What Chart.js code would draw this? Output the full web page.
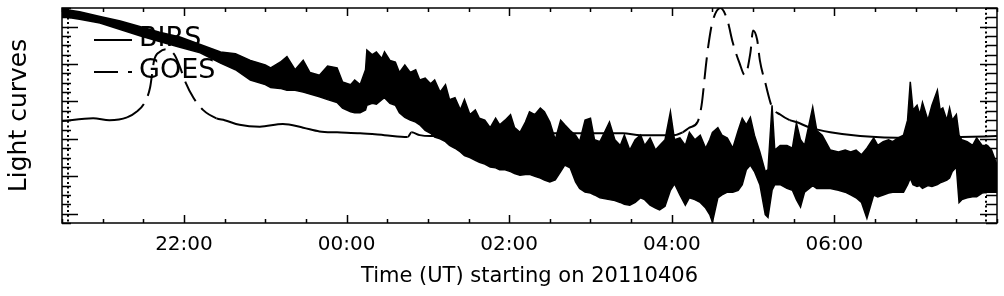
<!DOCTYPE html>
<html lang="en">
<head>
<meta charset="UTF-8">
<title>Light curves</title>
<script src="https://cdn.jsdelivr.net/npm/chart.js"></script>
<style>
  html, body { margin: 0; padding: 0; background: #fff; }
</style>
</head>
<body>
<canvas id="lc" width="1004" height="296"></canvas>
<script>
// time = minutes after 2011-04-06 20:00 UT, flux in arbitrary units
const birsTime = [30, 43, 58, 73, 88, 102, 117, 132, 147, 158, 169, 180,
  184, 191, 196, 202, 208, 213, 220, 226, 233, 237, 243, 246, 250, 254, 255, 259, 262, 266, 268, 272,
  276, 279, 283, 287, 291, 294, 298, 302, 305, 309, 313, 316, 320, 324, 327, 331, 335, 338, 342, 346,
  350, 353, 357, 361, 364, 368, 372, 375, 379, 383, 386,
  390, 394, 398, 401, 405, 409, 412, 416, 420, 423, 427, 431, 434, 438, 442, 445, 449, 453, 457, 460,
  464, 468, 471, 475, 479, 482, 486, 490, 493, 497, 501,
  505, 508, 510, 514, 517, 521, 525, 529, 532, 535, 538, 541, 545, 549, 551, 554, 556, 560, 565, 569,
  572, 575, 578, 584, 587, 591, 597, 603, 608, 612, 616, 620,
  624, 629, 632, 636, 640, 643, 647, 651, 654, 656, 658, 661, 663, 665, 669, 672, 676, 678, 680, 683,
  685, 687, 690, 692, 694, 698, 702, 705, 709, 713, 716, 720];
const birsHigh = [22.9, 22.6, 22.1, 21.6, 21.0, 20.4, 19.9, 19.1, 18.3, 18.1, 17.4, 16.9,
  16.6, 17.2, 17.8, 16.4, 17.4, 16.1, 15.8, 16.8, 16.6, 15.1, 14.8, 15.3, 14.8, 16.4, 18.5, 18.0, 18.3, 17.6, 18.3, 17.4,
  17.2, 16.1, 16.9, 16.1, 16.4, 15.3, 15.5, 14.9, 15.3, 14.0, 14.8, 13.2, 13.4, 12.1, 13.2, 11.6, 12.1, 11.2, 11.0, 10.2,
  11.2, 10.5, 11.0, 11.6, 10.2, 9.7, 10.8, 11.9, 11.6, 12.3, 11.9,
  10.8, 8.9, 11.0, 10.5, 9.9, 9.4, 8.7, 11.0, 11.2, 8.9, 8.7, 9.9, 10.8, 8.9, 8.3, 9.4, 7.8, 8.9, 9.4, 8.3,
  9.1, 7.8, 8.3, 8.9, 11.9, 8.9, 9.1, 8.3, 9.7, 8.9, 9.4,
  8.0, 8.9, 9.7, 10.2, 9.4, 9.1, 8.0, 9.9, 11.2, 10.5, 11.3, 9.4, 7.6, 5.5, 5.7, 12.6, 7.8, 8.3, 8.3, 8.0,
  10.7, 8.9, 8.3, 12.4, 9.9, 9.4, 7.8, 7.6, 7.8, 7.6, 7.8, 7.3,
  8.0, 9.1, 8.3, 8.7, 8.9, 8.7, 9.1, 9.4, 11.0, 15.1, 12.1, 12.6, 11.6, 12.9, 11.0, 12.6, 14.2, 12.1, 12.3, 11.0,
  12.3, 11.0, 11.6, 9.4, 8.9, 8.7, 8.3, 9.1, 8.3, 8.3, 7.8, 6.2];
const birsLow = [22.1, 21.8, 21.4, 20.7, 20.0, 19.4, 18.8, 18.2, 17.1, 16.4, 15.3, 14.8,
  14.5, 14.4, 14.2, 14.2, 14.0, 13.8, 13.5, 13.2, 12.9, 12.3, 11.9, 11.8, 11.8, 12.1, 12.6, 12.8, 12.7, 13.2, 13.4, 12.8,
  12.6, 11.8, 11.3, 11.0, 10.8, 10.5, 9.9, 9.6, 9.2, 9.0, 8.7, 8.3, 8.0, 7.6, 7.2, 7.0, 6.7, 6.5, 6.3, 6.0,
  5.9, 5.7, 5.7, 5.5, 5.3, 5.1, 5.2, 5.2, 5.0, 4.8, 4.6,
  4.4, 4.6, 5.5, 6.2, 5.9, 4.4, 3.7, 3.3, 3.2, 3.0, 2.7, 2.6, 2.5, 2.4, 2.2, 2.0, 1.9, 2.2, 2.7, 2.5,
  1.9, 1.6, 1.4, 1.8, 3.5, 4.2, 3.0, 1.9, 2.7, 2.5, 2.2,
  1.6, 0.9, 0.1, 2.7, 3.0, 3.3, 3.3, 3.5, 4.1, 5.7, 6.2, 5.5, 4.1, 0.9, 0.6, 3.5, 4.1, 4.1, 3.7, 3.5,
  2.5, 1.7, 3.3, 4.0, 3.7, 3.7, 3.7, 3.5, 3.3, 3.0, 2.7, 2.2,
  0.5, 3.0, 2.8, 3.0, 3.2, 3.3, 3.3, 3.3, 4.1, 4.8, 4.1, 3.9, 4.0, 3.7, 4.0, 3.9, 4.1, 4.3, 4.4, 4.6,
  4.8, 5.5, 6.0, 2.2, 2.5, 2.7, 2.8, 2.8, 3.2, 3.3, 3.3, 3.3];

const goesTime = [30, 53, 65, 78, 85, 91, 95, 98, 102, 107, 113, 117, 121, 127, 134, 144, 150, 161, 176, 193,
  208, 220, 233, 250, 268, 285, 288, 294, 302, 338, 383, 427, 444, 457, 481, 488, 493, 499, 502, 505,
  507, 510, 516, 521, 525, 530, 534, 538, 540, 543, 545, 549, 554, 560, 567, 572, 582, 597, 619, 656, 693, 720];
const goesFlux = [10.9, 11.2, 11.0, 11.3, 11.9, 12.9, 14.5, 17.4, 18.3, 18.6, 18.0, 16.7, 15.1, 13.4, 12.1, 11.2, 11.0, 10.5, 10.3, 10.6,
  10.2, 9.8, 9.7, 9.6, 9.4, 9.2, 9.7, 9.4, 9.3, 9.5, 9.6, 9.6, 9.6, 9.4, 9.4, 9.7, 10.2, 10.8, 12.6, 16.6,
  19.0, 21.5, 23.0, 21.7, 19.3, 17.1, 15.8, 18.2, 20.6, 19.6, 17.4, 15.0, 12.4, 11.6, 11.0, 10.8, 10.2, 9.7, 9.3, 9.1, 9.2, 9.3];

const tickMinutes = [120, 240, 360, 480, 600];
const tickLabels = ['22:00', '00:00', '02:00', '04:00', '06:00'];

const pts = (xs, ys) => xs.map((t, i) => ({ x: t, y: ys[i] }));

// inward ticks on all four sides, plus the frame
const frameTicks = {
  id: 'frameTicks',
  afterDatasetsDraw(chart) {
    const { ctx, chartArea: a, scales: { x, y } } = chart;
    ctx.save();
    ctx.strokeStyle = '#000';
    ctx.lineWidth = 1.5;
    ctx.strokeRect(a.left, a.top, a.right - a.left, a.bottom - a.top);
    ctx.beginPath();
    x.ticks.forEach(t => {
      const px = Math.round(x.getPixelForValue(t.value)) + 0.5;
      const len = tickMinutes.includes(t.value) ? 8 : 4;
      ctx.moveTo(px, a.bottom); ctx.lineTo(px, a.bottom - len);
      ctx.moveTo(px, a.top); ctx.lineTo(px, a.top + len);
    });
    y.ticks.forEach(t => {
      const py = Math.round(y.getPixelForValue(t.value)) + 0.5;
      const major = t.value % 4 === 1;
      ctx.moveTo(a.left, py); ctx.lineTo(a.left + (major ? 16 : 9), py);
      ctx.moveTo(a.right, py); ctx.lineTo(a.right - (major ? 17 : 11), py);
    });
    ctx.stroke();
    // fine dotted minor marks just inside the y axes
    ctx.setLineDash([2, 2.7]);
    ctx.lineWidth = 2;
    ctx.beginPath();
    ctx.moveTo(a.left + 6, a.top); ctx.lineTo(a.left + 6, a.bottom);
    ctx.moveTo(a.right - 11, a.top); ctx.lineTo(a.right - 11, a.bottom);
    ctx.stroke();
    ctx.restore();
  }
};

// legend sits inside the plot, top left
const innerLegend = {
  id: 'innerLegend',
  afterDatasetsDraw(chart) {
    const { ctx, chartArea: a } = chart;
    const items = chart.data.datasets.filter(d => d.label);
    ctx.save();
    ctx.font = '27px "DejaVu Sans"';
    ctx.fillStyle = '#000';
    ctx.textBaseline = 'middle';
    items.forEach((d, i) => {
      const yy = a.top + 31 + i * 32;
      ctx.strokeStyle = '#000';
      ctx.lineWidth = 2;
      ctx.setLineDash(d.legendDash || []);
      ctx.beginPath();
      ctx.moveTo(a.left + 32, yy + 1);
      ctx.lineTo(a.left + 70, yy + 1);
      ctx.stroke();
      ctx.fillText(d.label, a.left + 77, yy);
    });
    ctx.restore();
  }
};

new Chart(document.getElementById('lc'), {
  type: 'line',
  data: {
    datasets: [
      {
        label: 'BIRS',
        data: pts(birsTime, birsHigh),
        borderColor: '#000',
        borderWidth: 1.5,
        pointRadius: 0,
        fill: false
      },
      {
        data: pts(birsTime, birsLow),
        borderColor: '#000',
        backgroundColor: '#000',
        borderWidth: 1.5,
        pointRadius: 0,
        fill: '-1'
      },
      {
        label: 'GOES',
        data: pts(goesTime, goesFlux),
        borderColor: '#000',
        borderWidth: 2,
        pointRadius: 0,
        fill: false,
        cubicInterpolationMode: 'monotone',
        legendDash: [24, 10],
        segment: {
          borderDash: c => Math.abs(c.p1.y - c.p0.y) > 0.35 * Math.abs(c.p1.x - c.p0.x) ? [22, 9] : undefined
        }
      }
    ]
  },
  options: {
    responsive: false,
    animation: false,
    devicePixelRatio: 1,
    layout: { padding: { top: 8, right: 7, bottom: 0, left: 0 } },
    plugins: { legend: { display: false }, tooltip: { enabled: false } },
    scales: {
      x: {
        type: 'linear',
        min: 30,
        max: 720,
        grid: { display: false },
        border: { display: false },
        ticks: {
          stepSize: 30,
          autoSkip: false,
          maxRotation: 0,
          padding: 2,
          color: '#000',
          font: { family: 'DejaVu Sans', size: 20 },
          callback: v => {
            const i = tickMinutes.indexOf(v);
            return i >= 0 ? tickLabels[i] : '';
          }
        },
        title: {
          display: true,
          text: 'Time (UT) starting on 20110406',
          color: '#000',
          font: { family: 'DejaVu Sans', size: 21 },
          padding: { top: 0, bottom: 7 }
        },
        afterFit: s => { s.height = 73; }
      },
      y: {
        min: 0,
        max: 23,
        grid: { display: false },
        border: { display: false },
        ticks: { display: false, stepSize: 1 },
        title: {
          display: true,
          text: 'Light curves',
          color: '#000',
          font: { family: 'DejaVu Sans', size: 25 },
          padding: { top: 4, bottom: 0 }
        },
        afterFit: s => { s.width = 62; }
      }
    }
  },
  plugins: [frameTicks, innerLegend]
});
</script>
</body>
</html>
